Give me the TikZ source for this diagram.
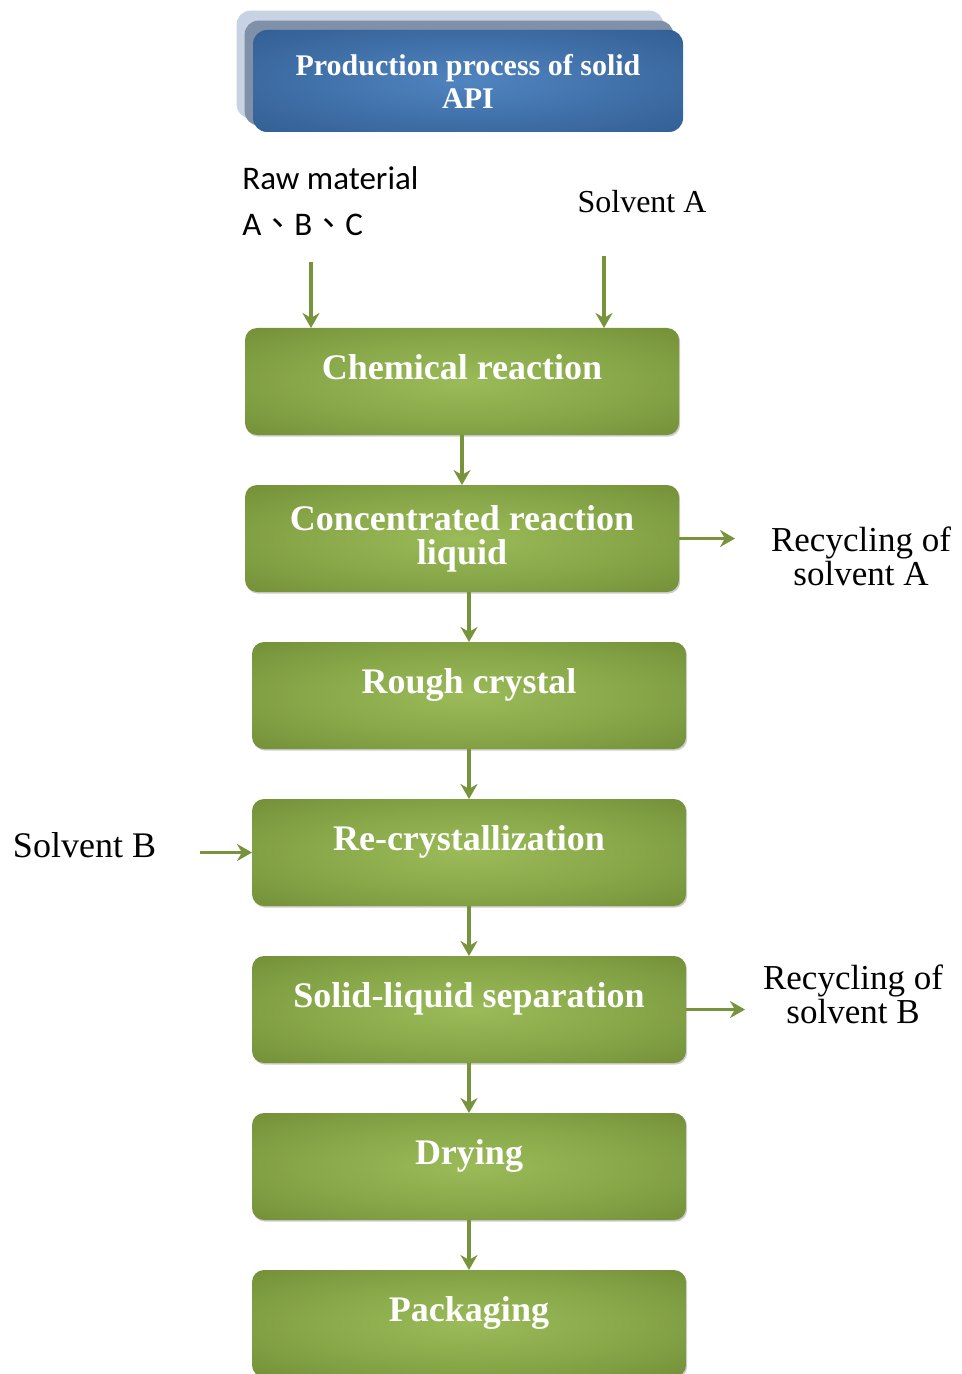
\documentclass[tikz,border=0pt]{standalone}
\usepackage{fontspec}
\setmainfont{Liberation Serif}
\newfontfamily\calfont{Carlito}
\newfontfamily\cjk{Noto Sans CJK TC}
\usetikzlibrary{arrows.meta,chains,positioning,shadows,backgrounds}
\definecolor{grnlight}{HTML}{9BBB59}
\definecolor{grnmid}{HTML}{87A648}
\definecolor{grndark}{HTML}{6E8A34}
\definecolor{bluelight}{HTML}{5084C0}
\definecolor{bluemid}{HTML}{7F90A8}
\definecolor{bluedark}{HTML}{2F5A8E}
\definecolor{blueback}{HTML}{C7D3E2}
\definecolor{arrgreen}{HTML}{77933C}
\pgfdeclareradialshading{grnglow}{\pgfpoint{0bp}{0bp}}{color(0bp)=(grnlight); color(20bp)=(grnmid); color(40bp)=(grndark); color(50bp)=(grndark)}
\pgfdeclareradialshading{blueglow}{\pgfpoint{0bp}{0bp}}{color(0bp)=(bluelight); color(40bp)=(bluedark); color(50bp)=(bluedark)}

\begin{document}
\begin{tikzpicture}[
node distance=25pt,
 start chain = F going below,
    X/.style = {rectangle, rounded corners=6pt, shade, shading=grnglow,% styles of process boxes (chain)
                minimum width=217pt, minimum height=53.5pt,
                text height=10pt, text depth=12pt, text=white, align=center,
                font=\fontsize{18}{17}\selectfont\bfseries,
                outer sep=0pt, on chain,
                drop shadow={shadow xshift=0.6pt, shadow yshift=-0.8pt, opacity=0.4}},
    T/.style = {rectangle, rounded corners=7pt, shade, shading=blueglow,% style of heading box
                minimum width=215pt, minimum height=51pt, text=white, align=center,
                font=\fontsize{15}{16.5}\selectfont\bfseries},
    L/.style = {align=center, font=\fontsize{17.5}{17}\selectfont},
    arr/.style = {draw=arrgreen, line width=1.6pt, -{Stealth[length=7.5pt,width=8.5pt]}},
                        ]
\useasboundingbox (0,0) rectangle (481pt,-687pt);
% heading
\node[T] (title) at (234pt,-40.5pt) {Production process of solid\\API};
\begin{scope}[on background layer]
\fill[blueback, rounded corners=7pt] ([shift={(-8pt,9.5pt)}]title.north west) rectangle ([shift={(-10pt,7pt)}]title.south east);
\fill[bluemid, rounded corners=7pt] ([shift={(-4pt,4.5pt)}]title.north west) rectangle ([shift={(-5pt,3.5pt)}]title.south east);
\end{scope}
% inputs
\node[anchor=north west, inner sep=0pt, align=left, font=\calfont\fontsize{16.5}{23}\selectfont] (raw) at (121pt,-83pt)
    {Raw material\\A{\cjk 、}B{\cjk 、}C};
\node[font=\fontsize{16}{18}\selectfont] (sA) at (321pt,-101pt) {Solvent A};
% process steps
\node[X] at (231pt,-190.75pt) {Chemical reaction};
\node[X, text height=, text depth=] {Concentrated reaction\\liquid};
\node[X, xshift=3.5pt] {Rough crystal};
\foreach \i in {Re-crystallization,Solid-liquid separation,Drying,Packaging}% <-- content of nodes
    \node[X] {\i};
\foreach \a [count=\b from 2] in {1,...,6}
    \draw[arr] (F-\b.north |- F-\a.south) -- (F-\b.north);
\coordinate (inR) at (155.5pt,-131pt);
\coordinate (inA) at (302pt,-128pt);
\draw[arr] (inR) -- (inR |- F-1.north);
\draw[arr] (inA) -- (inA |- F-1.north);
% side streams
\node[L] (recA) at (430.5pt,-278pt) {Recycling of\\solvent A};
\coordinate (outA) at ([xshift=28pt]F-2.east);
\draw[arr] (F-2.east) -- (outA);
\node[L, font=\fontsize{18}{18}\selectfont] (sB) at (42.25pt,-422.5pt) {Solvent B};
\coordinate (inB) at ([xshift=18.5pt]sB.east);
\draw[arr] (inB |- F-4.west) -- (F-4.west);
\node[L] (recB) at (426.5pt,-497pt) {Recycling of\\solvent B};
\coordinate (outB) at ([xshift=29.5pt]F-5.east);
\draw[arr] (F-5.east) -- (outB);
\end{tikzpicture}
\end{document}
